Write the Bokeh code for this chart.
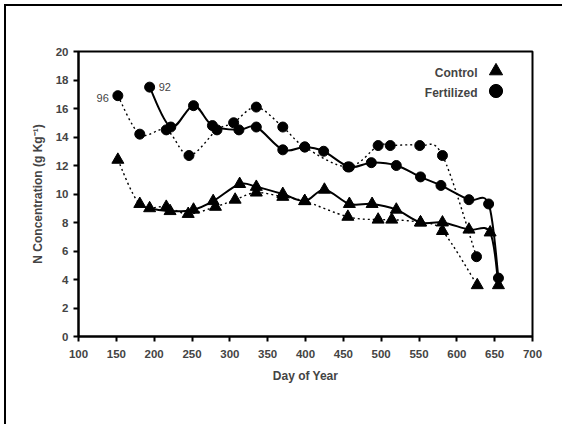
from bokeh.plotting import figure
from bokeh.models import Label, Legend, LegendItem, ColumnDataSource
from bokeh.embed import file_html
from bokeh.resources import INLINE

# ---- data ----
fert92_day = [194, 222, 252, 277, 312, 335, 370, 399, 424, 458, 487, 520, 552, 579, 616, 642, 655]
fert92_n = [17.5, 14.7, 16.2, 14.8, 14.5, 14.7, 13.1, 13.3, 13.0, 11.9, 12.2, 12.0, 11.2, 10.6, 9.6, 9.3, 4.1]

fert96_day = [152, 181, 216, 246, 283, 305, 335, 370, 399, 456, 496, 512, 551, 581, 626]
fert96_n = [16.9, 14.2, 14.5, 12.7, 14.5, 15.0, 16.1, 14.7, 13.3, 11.9, 13.4, 13.4, 13.4, 12.7, 5.6]

ctrl92_day = [194, 221, 252, 278, 313, 335, 370, 399, 425, 458, 488, 520, 552, 581, 616, 644, 655]
ctrl92_n = [9.0, 8.8, 8.9, 9.5, 10.7, 10.5, 10.0, 9.5, 10.3, 9.3, 9.3, 8.9, 8.0, 8.0, 7.5, 7.3, 3.6]

ctrl96_day = [152, 181, 216, 245, 281, 307, 335, 370, 399, 456, 496, 514, 552, 581, 627]
ctrl96_n = [12.4, 9.3, 9.1, 8.6, 9.1, 9.6, 10.1, 9.8, 9.5, 8.4, 8.2, 8.2, 8.0, 7.4, 3.6]

x_ticks = list(range(100, 701, 50))
y_ticks = list(range(0, 21, 2))
series_labels = ["Control", "Fertilized"]
year_labels = ["92", "96"]

FONT = "Liberation Sans"


def smooth(xs, ys):
    """Bezier control points (Catmull-Rom style) for a smoothed line through the data."""
    n = len(xs)
    d = dict(x0=[], y0=[], x1=[], y1=[], cx0=[], cy0=[], cx1=[], cy1=[])
    for i in range(n - 1):
        a = i - 1 if i > 0 else i
        b = i + 2 if i + 2 < n else i + 1
        d["x0"].append(xs[i]); d["y0"].append(ys[i])
        d["x1"].append(xs[i + 1]); d["y1"].append(ys[i + 1])
        d["cx0"].append(xs[i] + (xs[i + 1] - xs[a]) / 6.0)
        d["cy0"].append(ys[i] + (ys[i + 1] - ys[a]) / 6.0)
        d["cx1"].append(xs[i + 1] - (xs[b] - xs[i]) / 6.0)
        d["cy1"].append(ys[i + 1] - (ys[b] - ys[i]) / 6.0)
    return ColumnDataSource(d)


p = figure(width=558, height=420, x_range=(100, 700), y_range=(0, 20),
           output_backend="svg", toolbar_location=None,
           min_border_left=72, min_border_right=32, min_border_top=45, min_border_bottom=90)
p.styles = {"margin-left": "4px", "margin-top": "4px",
            "border-left": "2px solid black", "border-top": "2px solid black"}

p.grid.visible = False
p.outline_line_color = "black"
p.outline_line_width = 2

for ax in (p.xaxis[0], p.yaxis[0]):
    ax.axis_line_width = 2
    ax.major_tick_line_width = 2
    ax.major_tick_out = 5
    ax.major_tick_in = 0
    ax.minor_tick_out = 0
    ax.minor_tick_in = 0
    ax.major_label_text_font = FONT
    ax.major_label_text_font_style = "bold"
    ax.major_label_text_font_size = "11.5px"
    ax.axis_label_text_font = FONT
    ax.axis_label_text_font_style = "bold"
    ax.axis_label_text_font_size = "12px"

p.xaxis.ticker = x_ticks
p.yaxis.ticker = y_ticks
p.xaxis.axis_label = "Day of Year"
p.yaxis.axis_label = "N Concentration (g Kg\u207b\u00b9)"
p.xaxis.major_label_standoff = 8
p.yaxis.major_label_standoff = 5
p.xaxis.axis_label_standoff = 8
p.yaxis.axis_label_standoff = 8

# lines
for xs, ys in [(fert92_day, fert92_n), (ctrl92_day, ctrl92_n)]:
    p.bezier(x0="x0", y0="y0", x1="x1", y1="y1", cx0="cx0", cy0="cy0", cx1="cx1", cy1="cy1",
             source=smooth(xs, ys), line_color="black", line_width=2)
for xs, ys in [(fert96_day, fert96_n), (ctrl96_day, ctrl96_n)]:
    p.bezier(x0="x0", y0="y0", x1="x1", y1="y1", cx0="cx0", cy0="cy0", cx1="cx1", cy1="cy1",
             source=smooth(xs, ys), line_color="black", line_width=1.4, line_dash="2 3")

# markers
r_c96 = p.scatter(ctrl96_day, ctrl96_n, marker="triangle", size=12, color="black")
r_c92 = p.scatter(ctrl92_day, ctrl92_n, marker="triangle", size=12, color="black")
r_f96 = p.scatter(fert96_day, fert96_n, marker="circle", size=10, color="black")
r_f92 = p.scatter(fert92_day, fert92_n, marker="circle", size=10, color="black")

# year annotations
p.add_layout(Label(x=fert96_day[0], y=fert96_n[0], text=year_labels[1], x_offset=-9, y_offset=-2.5,
                   text_align="right", text_baseline="middle", text_font=FONT,
                   text_font_size="11px"))
p.add_layout(Label(x=fert92_day[0], y=fert92_n[0], text=year_labels[0], x_offset=9, y_offset=0,
                   text_align="left", text_baseline="middle", text_font=FONT,
                   text_font_size="11px"))

# legend: one glyph-only legend per series, right-aligned text to the left of each symbol
for rend, loc in [(r_c92, (401, 249)), (r_f92, (401, 229))]:
    lg = Legend(items=[LegendItem(label="", renderers=[rend])],
                location=loc, margin=0, padding=0,
                glyph_width=33, glyph_height=33, label_standoff=0, label_width=0, label_height=0,
                spacing=0, border_line_alpha=0, background_fill_alpha=0)
    p.add_layout(lg)

for txt, ys in zip(series_labels, [263.7, 243.7]):
    p.add_layout(Label(x=399, y=ys, x_units="screen", y_units="screen", text=txt,
                       text_align="right", text_baseline="middle", text_font=FONT,
                       text_font_style="bold", text_font_size="12px"))

open("out.html", "w").write(file_html(p, INLINE))
